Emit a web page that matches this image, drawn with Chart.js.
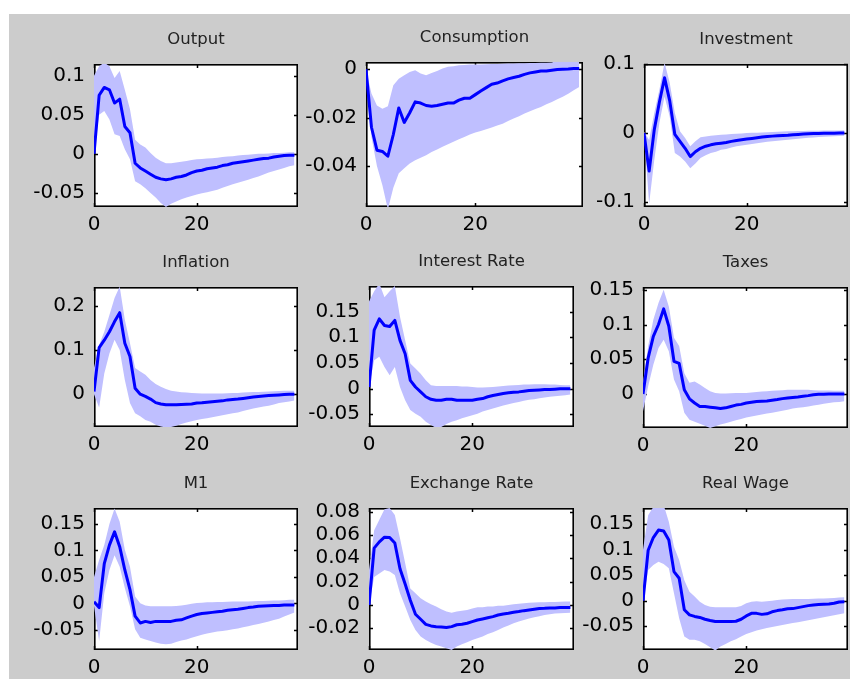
<!DOCTYPE html>
<html>
<head>
<meta charset="utf-8">
<script src="https://cdn.jsdelivr.net/npm/chart.js@4.4.1/dist/chart.umd.min.js"></script>
<style>
  html, body { margin: 0; padding: 0; background: #ffffff; width: 850px; height: 679px; overflow: hidden; }
  #figure { position: absolute; left: 9px; top: 14px; width: 841px; height: 665px; background: #cccccc; }
  canvas { position: absolute; }
</style>
</head>
<body>
<div id="figure"></div>
<script>
// ---------------- DATA ----------------
const steps = [0,1,2,3,4,5,6,7,8,9,10,11,12,13,14,15,16,17,18,19,20,21,22,23,24,25,26,27,28,29,30,31,32,33,34,35,36,37,38,39];
const xTicks = [0, 20];
const xTickLabels = ['0', '20'];

const titles = ['Output', 'Consumption', 'Investment', 'Inflation', 'Interest Rate', 'Taxes', 'M1', 'Exchange Rate', 'Real Wage'];

// Output
const outputMean = [0.000, 0.075, 0.085, 0.082, 0.065, 0.070, 0.035, 0.027, -0.012, -0.018, -0.022, -0.026, -0.030, -0.032, -0.033, -0.032, -0.030, -0.029, -0.027, -0.024, -0.022, -0.021, -0.019, -0.018, -0.017, -0.015, -0.014, -0.012, -0.011, -0.010, -0.009, -0.008, -0.007, -0.006, -0.0055, -0.004, -0.003, -0.002, -0.0017, -0.0017];
const outputHigh = [0.100, 0.112, 0.117, 0.112, 0.097, 0.106, 0.082, 0.057, 0.018, 0.012, 0.008, 0.001, -0.005, -0.009, -0.012, -0.012, -0.011, -0.010, -0.009, -0.008, -0.007, -0.0065, -0.006, -0.0055, -0.005, -0.004, -0.0035, -0.003, -0.002, -0.0015, -0.001, -0.0005, 0.000, 0.000, 0.0005, 0.001, 0.001, 0.0015, 0.002, 0.002];
const outputLow = [0.000, 0.050, 0.055, 0.044, 0.025, 0.023, 0.006, -0.007, -0.035, -0.039, -0.044, -0.050, -0.056, -0.063, -0.068, -0.064, -0.061, -0.058, -0.056, -0.054, -0.052, -0.0505, -0.049, -0.0475, -0.046, -0.0435, -0.041, -0.039, -0.037, -0.035, -0.033, -0.031, -0.029, -0.0265, -0.024, -0.022, -0.020, -0.018, -0.016, -0.0145];
const outputRange = [-0.068, 0.115];
const outputTicks = [-0.05, 0, 0.05, 0.1];
const outputTickLabels = ['-0.05', '0', '0.05', '0.1'];

// Consumption
const consMean = [0.000, -0.024, -0.0335, -0.034, -0.036, -0.027, -0.016, -0.022, -0.018, -0.0135, -0.014, -0.015, -0.0153, -0.015, -0.0145, -0.014, -0.014, -0.0128, -0.012, -0.012, -0.0105, -0.009, -0.0076, -0.0062, -0.0057, -0.0048, -0.004, -0.0034, -0.0029, -0.0021, -0.0015, -0.0011, -0.0007, -0.0007, -0.0004, -0.0001, 0.000, 0.0001, 0.0003, 0.0003];
const consHigh = [0.000, -0.010, -0.015, -0.0163, -0.0153, -0.0066, -0.0039, -0.0025, -0.0011, -0.0004, -0.0018, -0.0025, -0.0015, -0.0007, 0.0003, 0.001, 0.0012, 0.0017, 0.0018, 0.002, 0.002, 0.002, 0.0021, 0.0022, 0.0022, 0.0023, 0.0024, 0.0024, 0.0025, 0.0025, 0.0026, 0.0026, 0.0027, 0.0027, 0.0028, 0.0035, 0.004, 0.0045, 0.005, 0.005];
const consLow = [0.000, -0.028, -0.040, -0.048, -0.058, -0.049, -0.043, -0.041, -0.039, -0.0377, -0.0366, -0.0356, -0.0342, -0.0332, -0.0321, -0.031, -0.030, -0.029, -0.028, -0.027, -0.0262, -0.0255, -0.0248, -0.0241, -0.0233, -0.0225, -0.0214, -0.0204, -0.0194, -0.0183, -0.0174, -0.0164, -0.0156, -0.0145, -0.0135, -0.0124, -0.0114, -0.0101, -0.0087, -0.0073];
const consRange = [-0.057, 0.003];
const consTicks = [-0.04, -0.02, 0];
const consTickLabels = ['-0.04', '-0.02', '0'];

// Investment
const invMean = [0.000, -0.055, 0.005, 0.045, 0.080, 0.047, -0.002, -0.012, -0.022, -0.034, -0.027, -0.022, -0.019, -0.017, -0.0155, -0.0146, -0.0136, -0.012, -0.0107, -0.0097, -0.0087, -0.0078, -0.0068, -0.0058, -0.0049, -0.0044, -0.0039, -0.0034, -0.003, -0.0024, -0.002, -0.0015, -0.001, -0.0007, -0.0005, -0.0003, -0.0002, -0.0001, 0.000, 0.000];
const invHigh = [0.002, -0.010, 0.029, 0.063, 0.102, 0.073, 0.029, 0.0025, -0.007, -0.019, -0.012, -0.006, -0.005, -0.004, -0.003, -0.0025, -0.002, -0.0015, -0.001, -0.0005, 0.000, 0.0003, 0.0006, 0.001, 0.0013, 0.0017, 0.002, 0.0024, 0.0026, 0.0028, 0.003, 0.0031, 0.0032, 0.0034, 0.0035, 0.0036, 0.0037, 0.0038, 0.0039, 0.004];
const invLow = [0.000, -0.102, -0.039, 0.015, 0.053, 0.024, -0.029, -0.034, -0.041, -0.051, -0.044, -0.036, -0.032, -0.029, -0.027, -0.024, -0.023, -0.021, -0.019, -0.018, -0.017, -0.0158, -0.0146, -0.0136, -0.0126, -0.0118, -0.011, -0.0104, -0.0097, -0.009, -0.0083, -0.0075, -0.0068, -0.0063, -0.0058, -0.0054, -0.0049, -0.0046, -0.0044, -0.004];
const invRange = [-0.107, 0.1];
const invTicks = [-0.1, 0, 0.1];
const invTickLabels = ['-0.1', '0', '0.1'];

// Inflation
const inflMean = [0.006, 0.105, 0.122, 0.141, 0.164, 0.184, 0.115, 0.085, 0.0135, 0.000, -0.005, -0.011, -0.019, -0.022, -0.024, -0.024, -0.024, -0.023, -0.0225, -0.022, -0.020, -0.0195, -0.018, -0.017, -0.016, -0.015, -0.0128, -0.012, -0.011, -0.0095, -0.008, -0.0065, -0.005, -0.004, -0.003, -0.0022, -0.0015, -0.0008, 0.000, 0.000];
const inflHigh = [0.060, 0.111, 0.141, 0.179, 0.217, 0.243, 0.168, 0.115, 0.059, 0.051, 0.044, 0.032, 0.023, 0.017, 0.012, 0.008, 0.006, 0.0045, 0.004, 0.003, 0.002, 0.0018, 0.0016, 0.0016, 0.0016, 0.0018, 0.002, 0.0025, 0.003, 0.0038, 0.0045, 0.0048, 0.005, 0.0055, 0.006, 0.0068, 0.0075, 0.008, 0.008, 0.008];
const inflLow = [0.000, -0.030, 0.047, 0.092, 0.123, 0.100, 0.032, -0.020, -0.043, -0.050, -0.058, -0.062, -0.069, -0.073, -0.075, -0.074, -0.071, -0.067, -0.064, -0.061, -0.058, -0.056, -0.054, -0.052, -0.050, -0.0475, -0.045, -0.043, -0.041, -0.038, -0.035, -0.0325, -0.030, -0.028, -0.026, -0.023, -0.020, -0.018, -0.0165, -0.014];
const inflRange = [-0.074, 0.242];
const inflTicks = [0, 0.1, 0.2];
const inflTickLabels = ['0', '0.1', '0.2'];

// Interest Rate
const rateMean = [0.003, 0.114, 0.136, 0.123, 0.121, 0.133, 0.094, 0.068, 0.016, 0.003, -0.0065, -0.016, -0.021, -0.023, -0.023, -0.021, -0.021, -0.023, -0.023, -0.023, -0.023, -0.021, -0.0195, -0.016, -0.0136, -0.0117, -0.0097, -0.0084, -0.0071, -0.0065, -0.0052, -0.004, -0.0032, -0.0026, -0.002, -0.002, -0.0013, -0.0006, -0.0006, -0.0006];
const rateHigh = [0.170, 0.190, 0.205, 0.178, 0.190, 0.200, 0.140, 0.094, 0.049, 0.039, 0.029, 0.016, 0.0065, 0.005, 0.005, 0.005, 0.005, 0.005, 0.004, 0.004, 0.003, 0.002, 0.002, 0.0025, 0.003, 0.004, 0.005, 0.006, 0.0065, 0.007, 0.0078, 0.008, 0.0085, 0.0085, 0.0085, 0.008, 0.008, 0.007, 0.0065, 0.0065];
const rateLow = [0.003, 0.055, 0.062, 0.042, 0.026, 0.042, 0.003, -0.023, -0.042, -0.049, -0.055, -0.065, -0.071, -0.077, -0.075, -0.069, -0.065, -0.062, -0.058, -0.055, -0.052, -0.049, -0.045, -0.042, -0.039, -0.036, -0.033, -0.0305, -0.028, -0.026, -0.024, -0.022, -0.0208, -0.019, -0.0175, -0.016, -0.015, -0.014, -0.013, -0.0117];
const rateRange = [-0.075, 0.2];
const rateTicks = [-0.05, 0, 0.05, 0.1, 0.15];
const rateTickLabels = ['-0.05', '0', '0.05', '0.1', '0.15'];

// Taxes
const taxMean = [0.000, 0.052, 0.083, 0.100, 0.1225, 0.0975, 0.047, 0.044, 0.006, -0.007, -0.013, -0.018, -0.018, -0.019, -0.020, -0.021, -0.020, -0.018, -0.016, -0.015, -0.013, -0.012, -0.011, -0.0105, -0.010, -0.009, -0.008, -0.0067, -0.0058, -0.005, -0.0043, -0.0034, -0.0024, -0.001, -0.0005, -0.0005, 0.000, 0.000, 0.000, 0.000];
const taxHigh = [0.016, 0.069, 0.107, 0.131, 0.150, 0.126, 0.081, 0.069, 0.030, 0.016, 0.018, 0.0135, 0.0087, 0.0038, 0.0014, 0.0005, 0.0005, 0.001, 0.0014, 0.0014, 0.0014, 0.002, 0.003, 0.0035, 0.004, 0.0045, 0.005, 0.0055, 0.006, 0.006, 0.006, 0.006, 0.006, 0.0055, 0.005, 0.005, 0.005, 0.0048, 0.0048, 0.0048];
const taxLow = [-0.025, 0.011, 0.042, 0.066, 0.078, 0.0615, 0.021, 0.004, -0.027, -0.037, -0.040, -0.043, -0.0457, -0.049, -0.0466, -0.044, -0.042, -0.040, -0.038, -0.036, -0.034, -0.0325, -0.031, -0.0295, -0.028, -0.027, -0.0255, -0.024, -0.0226, -0.021, -0.020, -0.019, -0.018, -0.0167, -0.0154, -0.014, -0.013, -0.012, -0.0115, -0.0106];
const taxRange = [-0.049, 0.154];
const taxTicks = [0, 0.05, 0.1, 0.15];
const taxTickLabels = ['0', '0.05', '0.1', '0.15'];

// M1
const m1Mean = [0.003, -0.008, 0.075, 0.110, 0.135, 0.107, 0.063, 0.026, -0.024, -0.037, -0.034, -0.036, -0.034, -0.034, -0.034, -0.034, -0.032, -0.031, -0.0275, -0.024, -0.021, -0.019, -0.018, -0.017, -0.016, -0.015, -0.013, -0.012, -0.011, -0.0095, -0.008, -0.007, -0.0056, -0.005, -0.0044, -0.0038, -0.0038, -0.0031, -0.0031, -0.0031];
const m1High = [0.050, 0.082, 0.110, 0.150, 0.179, 0.154, 0.101, 0.069, 0.013, 0.000, -0.004, -0.0056, -0.0056, -0.0056, -0.0056, -0.0056, -0.005, -0.004, -0.0025, -0.0006, 0.0006, 0.0012, 0.0019, 0.0022, 0.0025, 0.0028, 0.0031, 0.0034, 0.0037, 0.0037, 0.0037, 0.004, 0.0044, 0.0047, 0.005, 0.0053, 0.0056, 0.006, 0.0069, 0.0069];
const m1Low = [-0.005, -0.071, 0.019, 0.063, 0.091, 0.069, 0.029, -0.0056, -0.049, -0.065, -0.068, -0.071, -0.074, -0.076, -0.077, -0.076, -0.073, -0.070, -0.068, -0.065, -0.062, -0.059, -0.057, -0.055, -0.053, -0.052, -0.0506, -0.049, -0.0475, -0.045, -0.043, -0.041, -0.039, -0.0365, -0.034, -0.0315, -0.029, -0.025, -0.021, -0.017];
const m1Range = [-0.088, 0.18];
const m1Ticks = [-0.05, 0, 0.05, 0.1, 0.15];
const m1TickLabels = ['-0.05', '0', '0.05', '0.1', '0.15'];

// Exchange Rate
const fxMean = [0.000, 0.0486, 0.054, 0.058, 0.0577, 0.053, 0.031, 0.018, 0.004, -0.008, -0.0123, -0.0166, -0.018, -0.0186, -0.019, -0.0194, -0.0186, -0.017, -0.0166, -0.0157, -0.0143, -0.0129, -0.012, -0.011, -0.010, -0.0086, -0.0077, -0.0071, -0.0063, -0.0057, -0.0049, -0.0043, -0.0037, -0.0031, -0.0029, -0.0026, -0.0026, -0.0023, -0.0023, -0.0023];
const fxHigh = [0.030, 0.064, 0.073, 0.082, 0.083, 0.077, 0.057, 0.036, 0.014, 0.010, 0.0057, 0.003, 0.0006, -0.0014, -0.0037, -0.0057, -0.0066, -0.0057, -0.005, -0.0043, -0.0031, -0.002, -0.002, -0.0014, -0.0014, -0.0006, -0.0006, 0.000, 0.0006, 0.001, 0.0014, 0.0018, 0.002, 0.0022, 0.0023, 0.0025, 0.0026, 0.0028, 0.0029, 0.0029];
const fxLow = [0.000, 0.024, 0.027, 0.030, 0.0286, 0.0257, 0.010, -0.0014, -0.0129, -0.0214, -0.027, -0.030, -0.0323, -0.0343, -0.0357, -0.037, -0.0386, -0.0357, -0.0337, -0.032, -0.030, -0.0286, -0.027, -0.025, -0.0234, -0.0214, -0.0194, -0.0177, -0.0157, -0.0143, -0.0129, -0.0117, -0.0106, -0.0097, -0.0086, -0.008, -0.0074, -0.0071, -0.0069, -0.0066];
const fxRange = [-0.0386, 0.083];
const fxTicks = [-0.02, 0, 0.02, 0.04, 0.06, 0.08];
const fxTickLabels = ['-0.02', '0', '0.02', '0.04', '0.06', '0.08'];

// Real Wage
const wageMean = [0.000, 0.099, 0.124, 0.1386, 0.137, 0.119, 0.057, 0.044, -0.018, -0.028, -0.031, -0.033, -0.0366, -0.039, -0.041, -0.041, -0.041, -0.041, -0.0405, -0.0366, -0.030, -0.025, -0.025, -0.027, -0.026, -0.022, -0.0196, -0.018, -0.016, -0.0157, -0.0137, -0.0118, -0.0098, -0.0085, -0.0078, -0.0072, -0.0065, -0.0052, -0.0026, -0.002];
const wageHigh = [0.100, 0.168, 0.184, 0.190, 0.188, 0.155, 0.106, 0.080, 0.040, 0.0176, 0.008, -0.002, -0.0085, -0.012, -0.013, -0.013, -0.013, -0.013, -0.013, -0.0105, -0.005, -0.002, -0.0013, -0.002, -0.0013, 0.000, 0.0013, 0.002, 0.0026, 0.003, 0.0033, 0.0033, 0.0033, 0.0036, 0.004, 0.0043, 0.0046, 0.0052, 0.006, 0.0065];
const wageLow = [0.000, 0.060, 0.070, 0.0765, 0.072, 0.0634, 0.0144, -0.0346, -0.0706, -0.077, -0.077, -0.080, -0.085, -0.0915, -0.098, -0.090, -0.085, -0.080, -0.076, -0.0706, -0.0654, -0.062, -0.0588, -0.056, -0.054, -0.052, -0.0497, -0.048, -0.0458, -0.044, -0.0425, -0.0405, -0.0386, -0.0366, -0.0346, -0.0326, -0.0307, -0.0288, -0.0268, -0.0248];
const wageRange = [-0.097, 0.182];
const wageTicks = [-0.05, 0, 0.05, 0.1, 0.15];
const wageTickLabels = ['-0.05', '0', '0.05', '0.1', '0.15'];

// ---------------- LAYOUT / STYLE ----------------
const X_MAX = 39.7;
const LEFT_M = 90, RIGHT_M = 2, TOP_M = 50, BOTTOM_M = 30;
const FONT = '"DejaVu Sans", "Liberation Sans", Arial, sans-serif';
const BAND = 'rgb(191,191,255)';
const LINE = '#0000ff';

// axes boxes in page pixels: [left, top, right, bottom]
const boxes = [
  [94, 64, 298, 207], [366, 62, 583, 207], [644, 64, 848, 207],
  [94, 287, 298, 427], [369, 286, 574, 427], [643, 287, 848, 428],
  [94, 508, 298, 650], [369, 508, 574, 650], [643, 508, 848, 650]
];

const panels = [
  { mean: outputMean, high: outputHigh, low: outputLow, range: outputRange, ticks: outputTicks, labels: outputTickLabels },
  { mean: consMean, high: consHigh, low: consLow, range: consRange, ticks: consTicks, labels: consTickLabels },
  { mean: invMean, high: invHigh, low: invLow, range: invRange, ticks: invTicks, labels: invTickLabels },
  { mean: inflMean, high: inflHigh, low: inflLow, range: inflRange, ticks: inflTicks, labels: inflTickLabels },
  { mean: rateMean, high: rateHigh, low: rateLow, range: rateRange, ticks: rateTicks, labels: rateTickLabels },
  { mean: taxMean, high: taxHigh, low: taxLow, range: taxRange, ticks: taxTicks, labels: taxTickLabels },
  { mean: m1Mean, high: m1High, low: m1Low, range: m1Range, ticks: m1Ticks, labels: m1TickLabels },
  { mean: fxMean, high: fxHigh, low: fxLow, range: fxRange, ticks: fxTicks, labels: fxTickLabels },
  { mean: wageMean, high: wageHigh, low: wageLow, range: wageRange, ticks: wageTicks, labels: wageTickLabels }
];

// MATLAB-like axes: white plot area, box, inward ticks on all four sides, title
const matlabAxes = {
  id: 'matlabAxes',
  beforeDraw(chart) {
    const { ctx, chartArea: a } = chart;
    ctx.save();
    ctx.fillStyle = '#ffffff';
    ctx.fillRect(a.left, a.top, a.right - a.left, a.bottom - a.top);
    ctx.restore();
  },
  beforeDatasetsDraw(chart) {
    const { ctx, chartArea: a, scales } = chart;
    ctx.save();
    ctx.strokeStyle = '#000000';
    ctx.lineWidth = 1.6;
    ctx.strokeRect(a.left + 0.8, a.top + 0.8, a.right - a.left - 1.6, a.bottom - a.top - 1.6);
    ctx.lineWidth = 1.5;
    const TL = 4;
    ctx.beginPath();
    scales.y.ticks.forEach(t => {
      const py = Math.round(scales.y.getPixelForValue(t.value)) + 0.5;
      ctx.moveTo(a.left, py); ctx.lineTo(a.left + TL, py);
      ctx.moveTo(a.right, py); ctx.lineTo(a.right - TL, py);
    });
    scales.x.ticks.forEach(t => {
      const px = Math.round(scales.x.getPixelForValue(t.value)) + 0.5;
      ctx.moveTo(px, a.bottom); ctx.lineTo(px, a.bottom - TL);
      ctx.moveTo(px, a.top); ctx.lineTo(px, a.top + TL);
    });
    ctx.stroke();
    ctx.restore();
  },
  afterDraw(chart, args, opts) {
    const { ctx, chartArea: a } = chart;
    ctx.save();
    ctx.fillStyle = '#222222';
    ctx.font = '16.5px ' + FONT;
    ctx.textAlign = 'center';
    ctx.textBaseline = 'alphabetic';
    ctx.fillText(opts.title, (a.left + a.right) / 2, a.top - 20);
    ctx.restore();
  }
};

const pts = arr => steps.map((s, i) => ({ x: s, y: arr[i] }));

panels.forEach((p, k) => {
  const [bl, bt, br, bb] = boxes[k];
  const cw = LEFT_M + (br - bl) + RIGHT_M;
  const ch = TOP_M + (bb - bt) + BOTTOM_M;
  const canvas = document.createElement('canvas');
  canvas.width = cw; canvas.height = ch;
  canvas.style.left = (bl - LEFT_M) + 'px';
  canvas.style.top = (bt - TOP_M) + 'px';
  canvas.style.width = cw + 'px';
  canvas.style.height = ch + 'px';
  document.body.appendChild(canvas);

  new Chart(canvas, {
    type: 'line',
    data: {
      datasets: [
        { data: pts(p.high), fill: '+1', backgroundColor: BAND, borderColor: 'rgba(0,0,0,0)', borderWidth: 0, pointRadius: 0, tension: 0, order: 2 },
        { data: pts(p.low), fill: false, backgroundColor: BAND, borderColor: 'rgba(0,0,0,0)', borderWidth: 0, pointRadius: 0, tension: 0, order: 1 },
        { data: pts(p.mean), fill: false, borderColor: LINE, borderWidth: 3, pointRadius: 0, tension: 0, borderJoinStyle: 'round', order: 0 }
      ]
    },
    options: {
      responsive: false,
      animation: false,
      devicePixelRatio: 1,
      events: [],
      layout: { padding: { top: TOP_M, right: RIGHT_M, left: 0, bottom: 0 } },
      plugins: {
        legend: { display: false },
        tooltip: { enabled: false },
        title: { display: false },
        matlabAxes: { title: titles[k] }
      },
      scales: {
        x: {
          type: 'linear', min: 0, max: X_MAX,
          grid: { display: false, drawTicks: false },
          border: { display: false },
          afterBuildTicks: s => { s.ticks = xTicks.map(v => ({ value: v })); },
          afterFit: s => { s.height = BOTTOM_M; },
          ticks: {
            autoSkip: false, maxRotation: 0, minRotation: 0, padding: 6,
            color: '#000000', font: { family: FONT, size: 20 },
            callback: (v, i) => xTickLabels[i]
          }
        },
        y: {
          type: 'linear', min: p.range[0], max: p.range[1],
          grid: { display: false, drawTicks: false },
          border: { display: false },
          afterBuildTicks: s => { s.ticks = p.ticks.map(v => ({ value: v })); },
          afterFit: s => { s.width = LEFT_M; },
          ticks: {
            autoSkip: false, padding: 9,
            color: '#000000', font: { family: FONT, size: 20 },
            callback: (v, i) => p.labels[i]
          }
        }
      }
    },
    plugins: [matlabAxes]
  });
});
</script>
</body>
</html>
